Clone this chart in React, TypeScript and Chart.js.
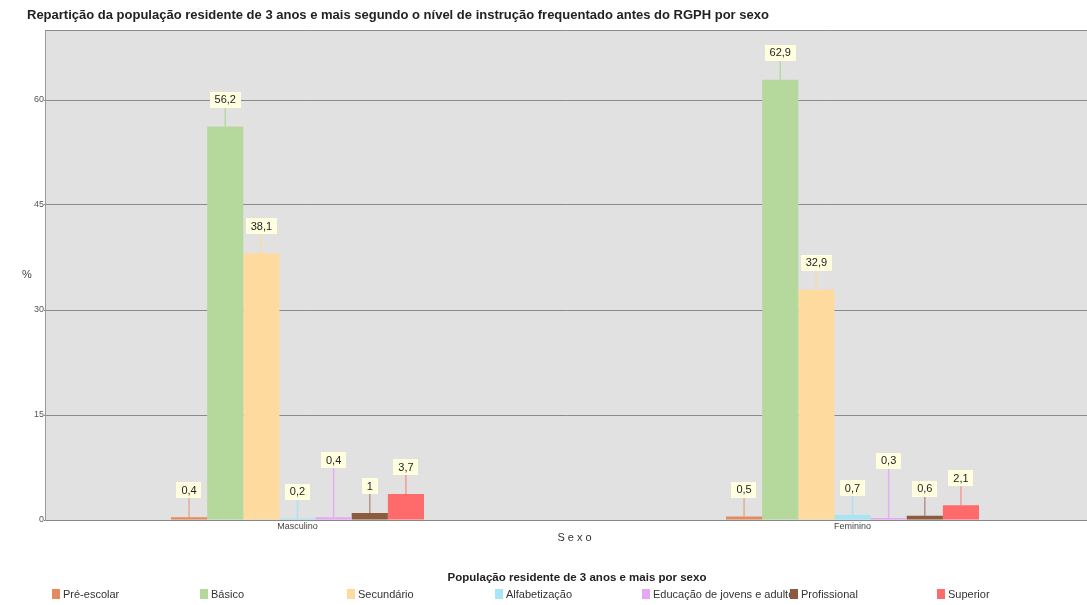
import React, { useEffect, useRef } from 'react';
import { Chart, registerables } from 'chart.js';

Chart.register(...registerables);

const chartTitle =
  'Repartição da população residente de 3 anos e mais segundo o nível de instrução frequentado antes do RGPH por sexo';
const categories = ['Masculino', 'Feminino'];
const levels = [
  'Pré-escolar',
  'Básico',
  'Secundário',
  'Alfabetização',
  'Educação de jovens e adultos',
  'Profissional',
  'Superior',
];
const preEscolar = [0.4, 0.5];
const basico = [56.2, 62.9];
const secundario = [38.1, 32.9];
const alfabetizacao = [0.2, 0.7];
const educacaoJovensAdultos = [0.4, 0.3];
const profissional = [1, 0.6];
const superior = [3.7, 2.1];
const seriesValues = [preEscolar, basico, secundario, alfabetizacao, educacaoJovensAdultos, profissional, superior];
const yTickValues = [0, 15, 30, 45, 60, 70];
const yMax = 70;
const xTitle = 'Sexo';
const yTitle = '%';
const legendTitle = 'População residente de 3 anos e mais por sexo';

const colors = ['#E38B5E', '#B5D99C', '#FFDA9E', '#A6E4F8', '#E6A8F3', '#8C5A3D', '#FF6B6B'];
const leaderColors = [
  'rgba(227,139,94,0.6)',
  'rgba(181,217,156,0.9)',
  'rgba(255,218,158,0.9)',
  'rgba(166,228,248,0.9)',
  'rgba(230,168,243,0.9)',
  'rgba(140,90,61,0.55)',
  'rgba(255,107,107,0.6)',
];
const labelLift = [0, 0, 0, 0, 30, 0, 0];

const FONT = '"Liberation Sans", Arial, sans-serif';

const fmt = (v: number) => String(v).replace('.', ',');

const decorPlugin = {
  id: 'decor',
  beforeDraw(chart: any) {
    const { ctx, chartArea } = chart;
    ctx.save();
    ctx.fillStyle = '#FFFFFF';
    ctx.fillRect(0, 0, chart.width, chart.height);
    ctx.fillStyle = '#E1E1E1';
    ctx.fillRect(chartArea.left, chartArea.top, chartArea.right - chartArea.left, chartArea.bottom - chartArea.top);
    ctx.restore();
  },
  afterDatasetsDraw(chart: any) {
    const { ctx } = chart;
    ctx.save();
    ctx.font = `11px ${FONT}`;
    chart.data.datasets.forEach((ds: any, di: number) => {
      const meta = chart.getDatasetMeta(di);
      meta.data.forEach((el: any, i: number) => {
        const v = ds.data[i].y;
        const text = fmt(v);
        const tw = ctx.measureText(text).width;
        const bw = tw + 10;
        const bh = 16;
        const top = el.y;
        const boxBottom = top - 19 - labelLift[di];
        const x = el.x;
        ctx.strokeStyle = leaderColors[di];
        ctx.lineWidth = 1.5;
        ctx.beginPath();
        ctx.moveTo(x, boxBottom);
        ctx.lineTo(x, top);
        ctx.stroke();
        ctx.fillStyle = '#FFFFE0';
        ctx.fillRect(Math.round(x - bw / 2), Math.round(boxBottom - bh), Math.round(bw), bh);
        ctx.fillStyle = '#222222';
        ctx.textAlign = 'center';
        ctx.textBaseline = 'middle';
        ctx.fillText(text, x, boxBottom - bh / 2 + 0.5);
      });
    });
    ctx.restore();
  },
  afterDraw(chart: any) {
    const { ctx, chartArea } = chart;
    ctx.save();
    // main title
    ctx.fillStyle = '#222222';
    ctx.font = `bold 13px ${FONT}`;
    ctx.textAlign = 'left';
    ctx.textBaseline = 'middle';
    ctx.fillText(chartTitle, 27, 15);
    // y title
    ctx.font = `11px ${FONT}`;
    ctx.fillStyle = '#444444';
    ctx.textAlign = 'center';
    ctx.fillText(yTitle, 27, (chartArea.top + chartArea.bottom) / 2);
    // x title
    ctx.fillStyle = '#333333';
    ctx.font = `11px ${FONT}`;
    (ctx as any).letterSpacing = '3px';
    ctx.fillText(xTitle, 576, 538);
    (ctx as any).letterSpacing = '0px';
    // legend title
    ctx.font = `bold 11.5px ${FONT}`;
    ctx.fillStyle = '#222222';
    ctx.fillText(legendTitle, 577, 578);
    // legend items
    const x0 = 52;
    const step = 147.5;
    ctx.font = `11px ${FONT}`;
    ctx.textAlign = 'left';
    levels.forEach((name, i) => {
      const bx = Math.round(x0 + step * i);
      ctx.fillStyle = colors[i];
      ctx.fillRect(bx, 589, 8, 10);
      ctx.save();
      ctx.beginPath();
      ctx.rect(bx + 9, 580, Math.round(x0 + step * (i + 1)) - bx - 9, 25);
      ctx.clip();
      ctx.fillStyle = '#333333';
      ctx.fillText(name, bx + 11, 594.5);
      ctx.restore();
    });
    ctx.restore();
  },
};

export default function App() {
  const canvasRef = useRef<HTMLCanvasElement | null>(null);

  useEffect(() => {
    if (!canvasRef.current) return;
    const datasets = levels.map((name, di) => ({
      label: name,
      data: seriesValues[di].map((v, i) => ({ x: i, y: v })),
      backgroundColor: colors[di],
      borderWidth: 0,
      categoryPercentage: 253 / 555,
      barPercentage: 1,
    }));
    const chart = new Chart(canvasRef.current, {
      type: 'bar',
      data: { datasets },
      plugins: [decorPlugin],
      options: {
        responsive: false,
        animation: false,
        devicePixelRatio: 1,
        layout: { padding: { top: 30, left: 0, right: 0, bottom: 0 } },
        plugins: {
          legend: { display: false },
          title: { display: false },
          tooltip: { enabled: false },
        },
        scales: {
          x: {
            type: 'linear',
            offset: false,
            min: (45 - 297.5) / 555,
            max: (1087 - 297.5) / 555,
            afterBuildTicks: (scale: any) => {
              scale.ticks = categories.map((_, i) => ({ value: i }));
            },
            afterFit: (scale: any) => {
              scale.height = 85;
            },
            grid: { display: false, offset: false, drawTicks: false, tickLength: 0 },
            border: { display: true, color: '#888888', width: 1 },
            ticks: {
              autoSkip: false,
              maxRotation: 0,
              padding: 1,
              color: '#444444',
              font: { family: FONT, size: 9 },
              callback: (v: any) => categories[Number(v)] ?? '',
            },
          },
          y: {
            min: 0,
            max: yMax,
            afterBuildTicks: (scale: any) => {
              scale.ticks = yTickValues.map((v) => ({ value: v }));
            },
            afterFit: (scale: any) => {
              scale.width = 45;
            },
            grid: {
              color: '#8A8A8A',
              lineWidth: 1,
              tickLength: 1,
              tickColor: (c: any) => (c.tick && c.tick.value === yMax ? 'rgba(0,0,0,0)' : '#8A8A8A'),
            },
            border: { display: true, color: '#999999', width: 1 },
            ticks: {
              padding: 0,
              color: '#555555',
              font: { family: FONT, size: 9 },
              callback: (v: any) => (Number(v) === yMax ? '' : String(v)),
            },
          },
        },
      } as any,
    });
    return () => chart.destroy();
  }, []);

  return (
    <div style={{ position: 'fixed', left: 0, top: 0, width: 1087, height: 605, background: '#fff' }}>
      <canvas ref={canvasRef} width={1087} height={605} />
    </div>
  );
}
